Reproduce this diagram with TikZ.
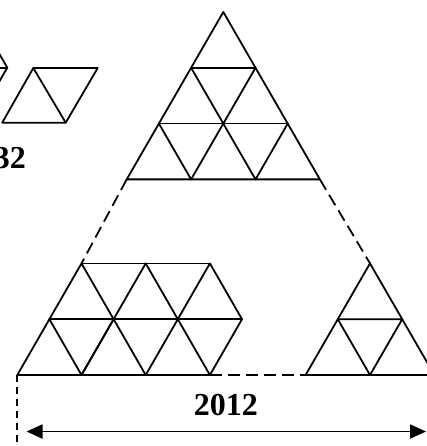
\documentclass[tikz,border=0pt]{standalone}
\usepackage{fontspec}
\setmainfont{Liberation Serif}
\usetikzlibrary{arrows.meta}
\tikzset{
  edge/.style={line width=1.8pt, line join=round, line cap=round},
  dashedge/.style={line width=1.8pt, dash pattern=on 12pt off 6pt},
  vdashedge/.style={line width=1.8pt, dash pattern=on 7pt off 5pt},
  lbl/.style={font=\bfseries\fontsize{32}{32}\selectfont, inner sep=0pt},
  dimarrow/.style={line width=1.8pt, {Triangle[length=16pt,width=14pt]}-{Triangle[length=16pt,width=14pt]}}
}
\begin{document}
\begin{tikzpicture}[x=1pt,y=-1pt]
\useasboundingbox (0,0) rectangle (427,446);
% ---------- top triangle (side 3) ----------
\coordinate (A)   at (223.3,12);
\coordinate (B1)  at (191.1,67.8);  \coordinate (B2) at (255.5,67.8);
\coordinate (C1)  at (158.9,123.6); \coordinate (C2) at (223.3,123.6); \coordinate (C3) at (287.7,123.6);
\coordinate (D1)  at (126.7,179.4); \coordinate (D2) at (191.1,179.4); \coordinate (D3) at (255.5,179.4); \coordinate (D4) at (319.9,179.4);
\draw[edge] (A) -- (D1) -- (D4) -- cycle;
\draw[edge] (B1) -- (B2) (C1) -- (C3);
\draw[edge] (B1) -- (C2) -- (B2);
\draw[edge] (C1) -- (D2) -- (C2) -- (D3) -- (C3);
% ---------- lower-left shape ----------
\coordinate (L0) at (17.3,375);  \coordinate (L1) at (81.5,375);  \coordinate (L2) at (145.7,375);  \coordinate (L3) at (209.9,375);
\coordinate (M0) at (49.4,319.2); \coordinate (M1) at (113.6,319.2); \coordinate (M2) at (177.8,319.2); \coordinate (M3) at (242,319.2);
\coordinate (T0) at (81.5,263.4); \coordinate (T1) at (145.7,263.4); \coordinate (T2) at (209.9,263.4);
\draw[edge] (L0) -- (L3) (M0) -- (M3) (T0) -- (T2);
\draw[edge] (L0) -- (T0) -- (M1) -- (L2);
\draw[edge] (M0) -- (L1) -- (T1);
\draw[edge] (T1) -- (M2) -- (L3) -- (M3) -- (T2) -- (M2);
\draw[edge] (M1) -- (L1);
\draw[edge] (M2) -- (L2);
% ---------- lower-right triangle (side 2) ----------
\coordinate (R0) at (370,263.4);
\coordinate (R1) at (337.8,319.2); \coordinate (R2) at (402.2,319.2);
\coordinate (R3) at (305.6,375);   \coordinate (R4) at (370,375);  \coordinate (R5) at (434.4,375);
\draw[edge] (R0) -- (R3) -- (R5) -- cycle;
\draw[edge] (R1) -- (R2) -- (R4) -- (R1);
% ---------- dashed outline ----------
\draw[dashedge] (D1) -- (T0);
\draw[dashedge] (D4) -- (R0);
\draw[dashedge] (L3) -- (R3);
\coordinate (V) at (17.3,450);
\draw[vdashedge] (L0) -- (V);
% ---------- small figures top-left ----------
\coordinate (P1) at (33.3,68); \coordinate (P2) at (97.7,68);
\coordinate (P3) at (65.7,122.7); \coordinate (P4) at (2.2,122.7);
\draw[edge] (P1) -- (P2) -- (P3) -- (P4) -- cycle;
\draw[edge] (P1) -- (P3);
\coordinate (Q) at (7.3,67.7);
\coordinate (Qa) at (-24.9,11.9); \coordinate (Qb) at (-24.9,123.5); \coordinate (Qc) at (-57,67.7);
\draw[edge] (Qa) -- (Q) -- (Qb);
\draw[edge] (Q) -- (Qc);
\node[lbl, anchor=base east] (n32) at (26,168.5) {32};
% ---------- dimension ----------
\node[lbl, anchor=base] (n2012) at (225.8,415.5) {2012};
\coordinate (E1) at (26.5,431.5); \coordinate (E2) at (426,431.5);
\draw[dimarrow] (E1) -- (E2);
\end{tikzpicture}
\end{document}
